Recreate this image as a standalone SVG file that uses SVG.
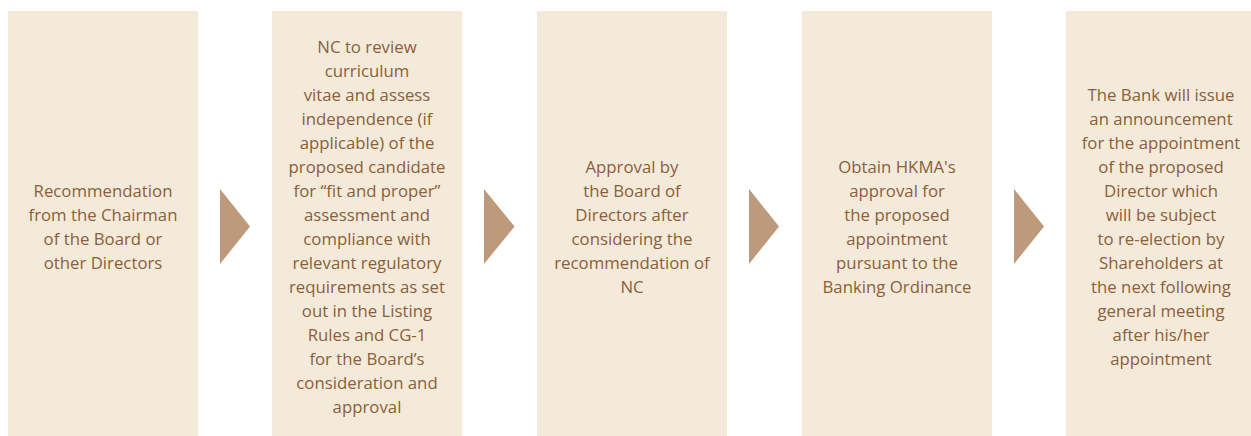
<svg xmlns="http://www.w3.org/2000/svg" width="1251" height="436" viewBox="0 0 1251 436">
<style>
.box{fill:#f4ead9}
.arr{fill:#bc9a7b}
text{font-family:"Open Sans","Noto Sans",sans-serif;font-size:16.8px;fill:#8b5e3c;text-anchor:middle}
</style>
<rect width="1251" height="436" fill="#ffffff"/>
<g id="node1">
<rect class="box" x="8" y="11" width="190" height="425"/>
<text x="103" y="197">Recommendation</text>
<text x="103" y="221">from the Chairman</text>
<text x="103" y="245">of the Board or</text>
<text x="103" y="269">other Directors</text>
</g>
<g id="node2">
<rect class="box" x="272" y="11" width="190" height="425"/>
<text x="367" y="53">NC to review</text>
<text x="367" y="77">curriculum</text>
<text x="367" y="101">vitae and assess</text>
<text x="367" y="125">independence (if</text>
<text x="367" y="149">applicable) of the</text>
<text x="367" y="173">proposed candidate</text>
<text x="367" y="197">for “fit and proper”</text>
<text x="367" y="221">assessment and</text>
<text x="367" y="245">compliance with</text>
<text x="367" y="269">relevant regulatory</text>
<text x="367" y="293">requirements as set</text>
<text x="367" y="317">out in the Listing</text>
<text x="367" y="341">Rules and CG-1</text>
<text x="367" y="365">for the Board’s</text>
<text x="367" y="389">consideration and</text>
<text x="367" y="413">approval</text>
</g>
<g id="node3">
<rect class="box" x="537" y="11" width="190" height="425"/>
<text x="632" y="173">Approval by</text>
<text x="632" y="197">the Board of</text>
<text x="632" y="221">Directors after</text>
<text x="632" y="245">considering the</text>
<text x="632" y="269">recommendation of</text>
<text x="632" y="293">NC</text>
</g>
<g id="node4">
<rect class="box" x="802" y="11" width="190" height="425"/>
<text x="897" y="173">Obtain HKMA's</text>
<text x="897" y="197">approval for</text>
<text x="897" y="221">the proposed</text>
<text x="897" y="245">appointment</text>
<text x="897" y="269">pursuant to the</text>
<text x="897" y="293">Banking Ordinance</text>
</g>
<g id="node5">
<rect class="box" x="1066" y="11" width="190" height="425"/>
<text x="1161" y="101">The Bank will issue</text>
<text x="1161" y="125">an announcement</text>
<text x="1161" y="149">for the appointment</text>
<text x="1161" y="173">of the proposed</text>
<text x="1161" y="197">Director which</text>
<text x="1161" y="221">will be subject</text>
<text x="1161" y="245">to re-election by</text>
<text x="1161" y="269">Shareholders at</text>
<text x="1161" y="293">the next following</text>
<text x="1161" y="317">general meeting</text>
<text x="1161" y="341">after his/her</text>
<text x="1161" y="365">appointment</text>
</g>
<g id="connectors">
<polygon class="arr" points="220,189 250,226.5 220,264"/>
<polygon class="arr" points="484,189 514.5,226.5 484,264"/>
<polygon class="arr" points="749,189 779,226.5 749,264"/>
<polygon class="arr" points="1014,189 1044,226.5 1014,264"/>
</g>
</svg>
